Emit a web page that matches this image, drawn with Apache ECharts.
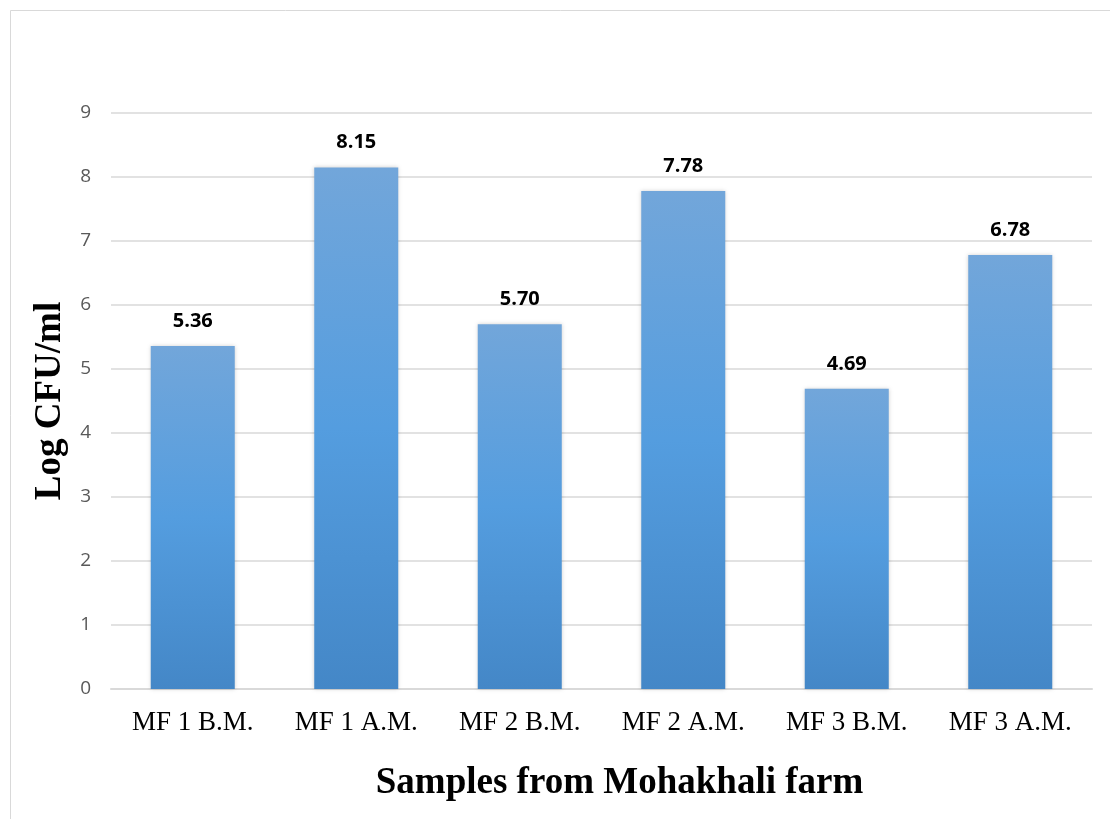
<!DOCTYPE html>
<html style="height: 100%">
<head>
    <meta charset="utf-8">
    <script type="text/javascript" src="https://cdn.jsdelivr.net/npm/echarts@6/dist/echarts.min.js"></script>
</head>
<body style="height: 100%; margin: 0; background: #fff">
<div id="container" style="height: 819px; width: 1110px"></div>
<script type="text/javascript">
    var samples = ['MF 1 B.M.', 'MF 1 A.M.', 'MF 2 B.M.', 'MF 2 A.M.', 'MF 3 B.M.', 'MF 3 A.M.'];
    var logCfu = [5.36, 8.15, 5.70, 7.78, 4.69, 6.78];

    var myChart = echarts.init(document.getElementById('container'));
    var barColor = new echarts.graphic.LinearGradient(0, 0, 0, 1, [
        { offset: 0, color: '#72a6da' },
        { offset: 0.5, color: '#549ddf' },
        { offset: 1, color: '#4487c7' }
    ]);
    var option = {
        backgroundColor: '#fff',
        animation: false,
        graphic: [{
            type: 'rect',
            shape: { x: 10.5, y: 10.5, width: 1120, height: 830 },
            style: { fill: 'none', stroke: '#d9d9d9', lineWidth: 1 },
            silent: true
        }],
        grid: { left: 111, right: 18, top: 113, bottom: 130 },
        xAxis: {
            type: 'category',
            data: samples,
            axisLine: { lineStyle: { color: '#d9d9d9', width: 2 } },
            axisTick: { show: false },
            axisLabel: {
                color: '#000',
                fontFamily: 'Liberation Serif',
                fontSize: 27,
                margin: 20
            },
            name: 'Samples from Mohakhali farm',
            nameLocation: 'middle',
            nameGap: 76,
            nameTextStyle: {
                color: '#000',
                fontFamily: 'Liberation Serif',
                fontWeight: 'bold',
                fontSize: 37,
                padding: [0, 0, 0, 36]
            }
        },
        yAxis: {
            type: 'value',
            min: 0,
            max: 9,
            interval: 1,
            axisLine: { show: false },
            axisTick: { show: false },
            splitLine: { lineStyle: { color: '#d9d9d9', width: 1.5 } },
            axisLabel: {
                color: '#595959',
                fontFamily: 'Open Sans',
                fontSize: 19,
                margin: 20
            },
            name: 'Log CFU/ml',
            nameLocation: 'middle',
            nameGap: 41,
            nameRotate: 90,
            nameTextStyle: {
                color: '#000',
                fontFamily: 'Liberation Serif',
                fontWeight: 'bold',
                fontSize: 37
            }
        },
        series: [{
            type: 'bar',
            data: logCfu,
            barWidth: 84,
            itemStyle: {
                color: barColor,
                shadowColor: 'rgba(0,0,0,0.18)',
                shadowBlur: 4
            },
            label: {
                show: true,
                position: 'top',
                distance: 15,
                color: '#000',
                fontFamily: 'Open Sans',
                fontWeight: 'bold',
                fontSize: 20,
                formatter: function (p) { return p.value.toFixed(2); }
            }
        }]
    };
    myChart.setOption(option);
</script>
</body>
</html>
